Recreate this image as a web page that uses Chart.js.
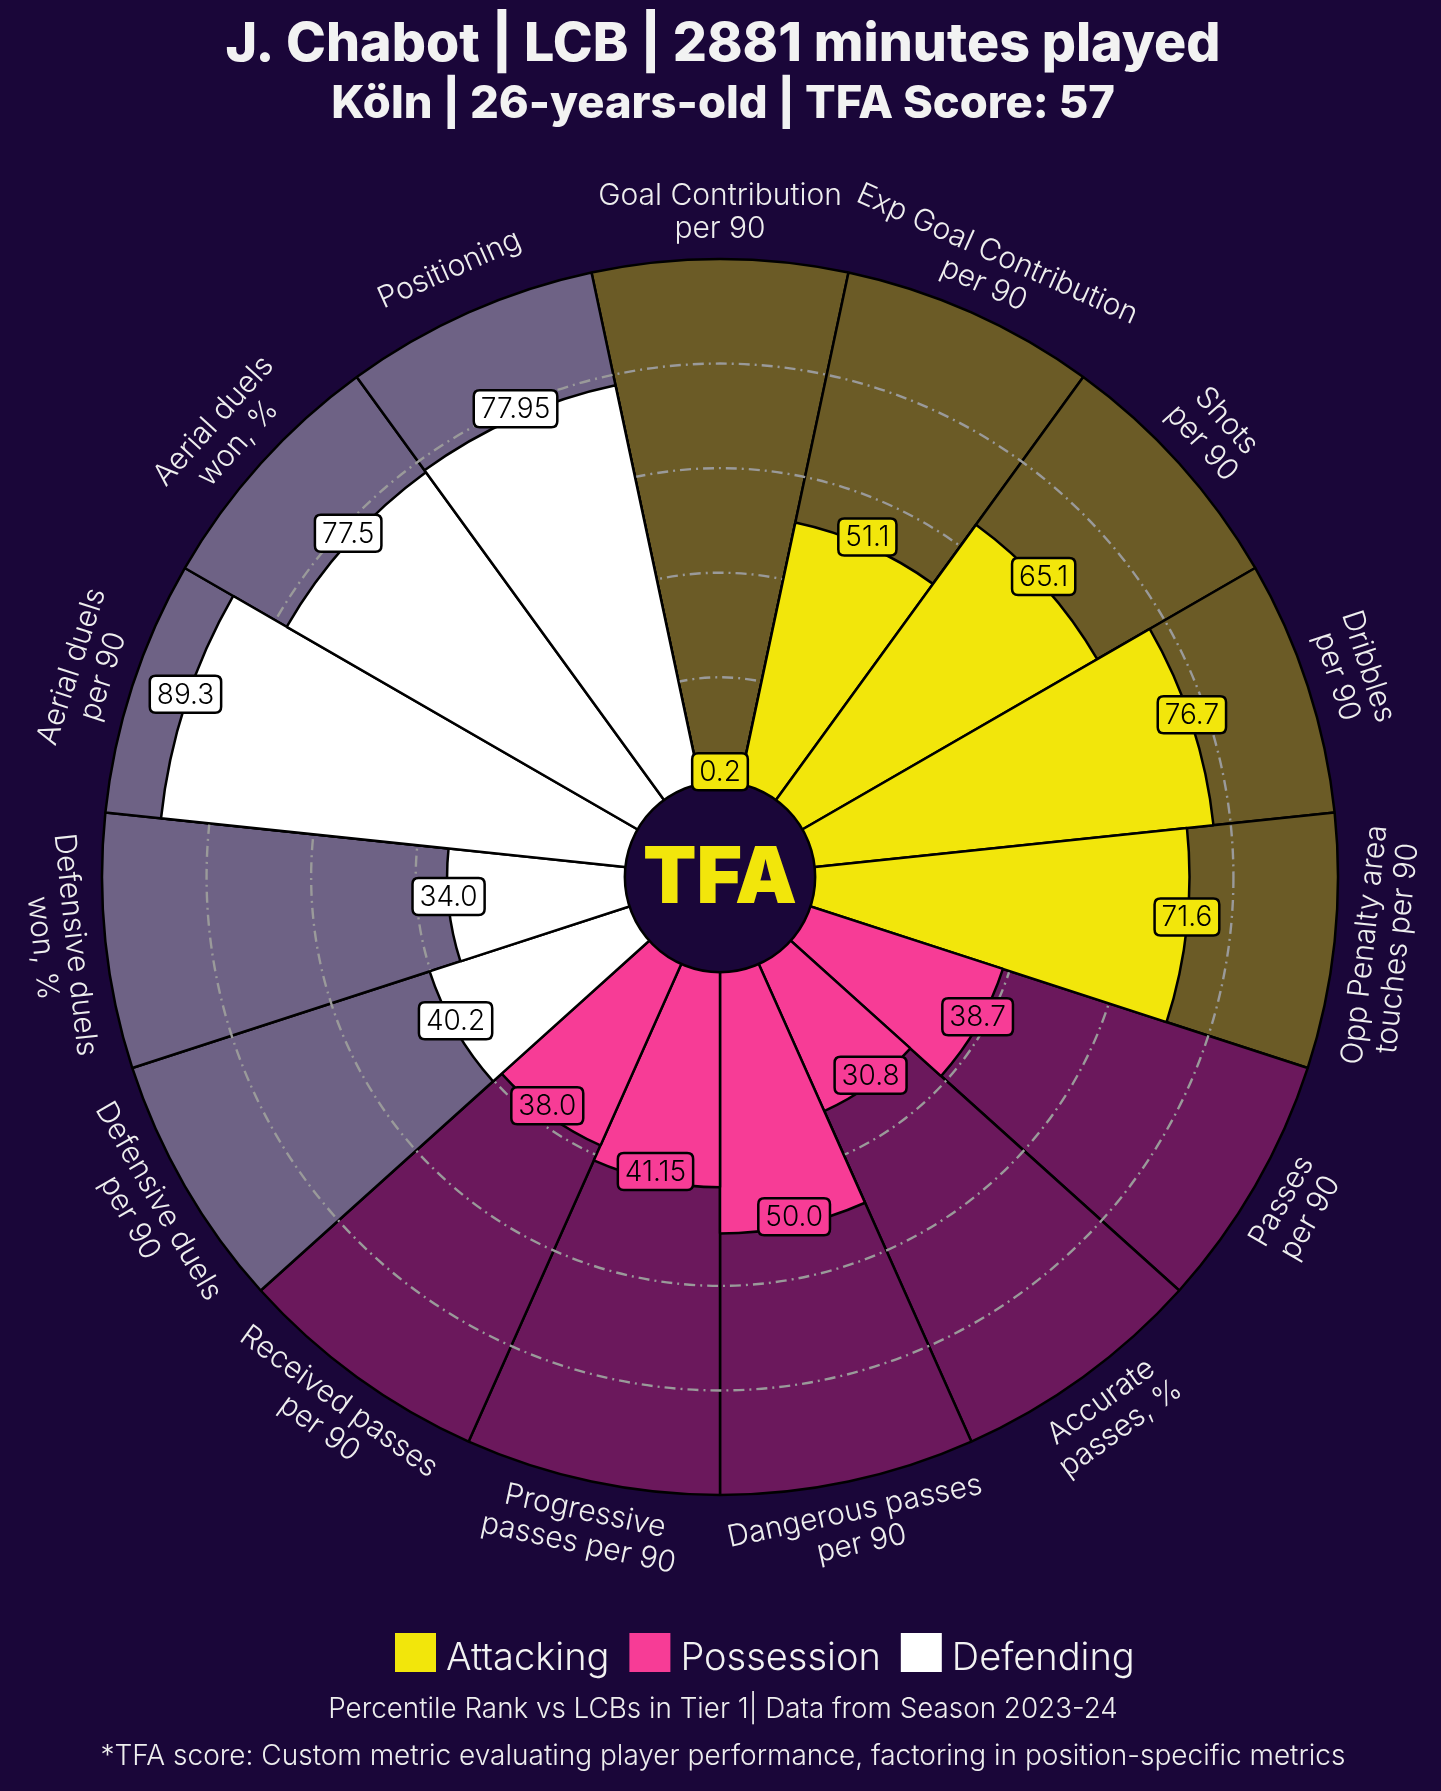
<!DOCTYPE html>
<html>
<head>
<meta charset="utf-8">
<script src="https://cdn.jsdelivr.net/npm/chart.js@4.4.1/dist/chart.umd.min.js"></script>
<style>
  html, body { margin: 0; padding: 0; background: #1a0639; }
  #wrap { position: relative; width: 1441px; height: 1791px; }
</style>
</head>
<body>
<div id="wrap"><canvas id="pizza"></canvas></div>
<script>
// --- data ---
var categories = [
    ['Goal Contribution', 'per 90'],
    ['Exp Goal Contribution', 'per 90'],
    ['Shots', 'per 90'],
    ['Dribbles', 'per 90'],
    ['Opp Penalty area', 'touches per 90'],
    ['Passes', 'per 90'],
    ['Accurate', 'passes, %'],
    ['Dangerous passes', 'per 90'],
    ['Progressive', 'passes per 90'],
    ['Received passes', 'per 90'],
    ['Defensive duels', 'per 90'],
    ['Defensive duels', 'won, %'],
    ['Aerial duels', 'per 90'],
    ['Aerial duels', 'won, %'],
    ['Positioning']
];
var percentiles = [0.2, 51.1, 65.1, 76.7, 71.6, 38.7, 30.8, 50.0, 41.15, 38.0, 40.2, 34.0, 89.3, 77.5, 77.95];
var groupOf = ['Attacking', 'Attacking', 'Attacking', 'Attacking', 'Attacking',
               'Possession', 'Possession', 'Possession', 'Possession', 'Possession',
               'Defending', 'Defending', 'Defending', 'Defending', 'Defending'];
var groupNames = ['Attacking', 'Possession', 'Defending'];
var gridValues = [20, 40, 60, 80];
var fullValues = categories.map(function() { return 100; });

var barColor = { Attacking: '#f2e60b', Possession: '#f73c96', Defending: '#ffffff' };
var bgColor = { Attacking: '#6b5b26', Possession: '#6b185c', Defending: '#6e6285' };

var titleLine1 = 'J. Chabot | LCB | 2881 minutes played';
var titleLine2 = 'Köln | 26-years-old | TFA Score: 57';
var footer1 = 'Percentile Rank vs LCBs in Tier 1| Data from Season 2023-24';
var footer2 = '*TFA score: Custom metric evaluating player performance, factoring in position-specific metrics';

var LIGHT = '300 ';
var FAMILY = 'Inter, "Noto Sans", sans-serif';

function fmt(v) {
    return (v % 1 === 0) ? v.toFixed(1) : String(v);
}

function roundRect(ctx, x, y, w, h, r) {
    ctx.beginPath();
    ctx.moveTo(x + r, y);
    ctx.lineTo(x + w - r, y);
    ctx.quadraticCurveTo(x + w, y, x + w, y + r);
    ctx.lineTo(x + w, y + h - r);
    ctx.quadraticCurveTo(x + w, y + h, x + w - r, y + h);
    ctx.lineTo(x + r, y + h);
    ctx.quadraticCurveTo(x, y + h, x, y + h - r);
    ctx.lineTo(x, y + r);
    ctx.quadraticCurveTo(x, y, x + r, y);
    ctx.closePath();
}

// pick a font size so the text spans roughly the width seen in the reference
function fitText(ctx, text, weight, targetWidth, guess) {
    ctx.font = weight + ' ' + guess + 'px ' + FAMILY;
    var w = ctx.measureText(text).width;
    var size = guess * targetWidth / w;
    ctx.font = weight + ' ' + size.toFixed(1) + 'px ' + FAMILY;
}

var pizzaExtras = {
    id: 'pizzaExtras',
    afterDatasetDraw: function(chart, args) {
        // dash-dot rings go over the background slices, under the bars
        if (args.index !== 1) return;
        var r = chart.scales.r, ctx = chart.ctx;
        ctx.save();
        ctx.strokeStyle = '#9a9a9a';
        ctx.lineWidth = 2.4;
        ctx.setLineDash([11, 5, 2, 5]);
        gridValues.forEach(function(v) {
            ctx.beginPath();
            ctx.arc(r.xCenter, r.yCenter, r.getDistanceFromCenterForValue(v), 0, Math.PI * 2);
            ctx.stroke();
        });
        ctx.restore();
    },
    afterDatasetsDraw: function(chart) {
        var r = chart.scales.r, ctx = chart.ctx;
        var cx = r.xCenter, cy = r.yCenter;
        var hub = r.getDistanceFromCenterForValue(0);
        var step = 360 / categories.length;
        ctx.save();

        // centre hub
        ctx.beginPath();
        ctx.arc(cx, cy, hub, 0, Math.PI * 2);
        ctx.fillStyle = '#1a0639';
        ctx.fill();
        ctx.lineWidth = 2.5;
        ctx.strokeStyle = '#000000';
        ctx.stroke();
        ctx.fillStyle = '#f2e60b';
        ctx.font = '900 78px ' + FAMILY;
        ctx.textAlign = 'center';
        ctx.textBaseline = 'middle';
        ctx.fillText('TFA', cx, cy + 3);

        // value boxes
        ctx.font = LIGHT + '28px ' + FAMILY;
        percentiles.forEach(function(v, i) {
            var a = (i * step) * Math.PI / 180;
            var d = r.getDistanceFromCenterForValue(v);
            var x = cx + d * Math.sin(a);
            var y = cy - d * Math.cos(a) - 9;
            var txt = fmt(v);
            var w = ctx.measureText(txt).width + 14;
            var h = 37;
            roundRect(ctx, x - w / 2, y - h / 2, w, h, 6);
            ctx.fillStyle = barColor[groupOf[i]];
            ctx.fill();
            ctx.lineWidth = 2.5;
            ctx.strokeStyle = '#000000';
            ctx.stroke();
            ctx.fillStyle = '#000000';
            ctx.fillText(txt, x, y + 1);
        });

        // category labels around the rim
        ctx.font = LIGHT + '30px ' + FAMILY;
        ctx.fillStyle = '#eeeeee';
        var R = 665, lh = 33;
        categories.forEach(function(lines, i) {
            var deg = i * step;
            var a = deg * Math.PI / 180;
            var rot = deg;
            if (deg > 90 && deg < 270) rot = deg - 180;
            else if (deg >= 270) rot = deg - 360;
            ctx.save();
            ctx.translate(cx + R * Math.sin(a), cy - R * Math.cos(a));
            ctx.rotate(rot * Math.PI / 180);
            lines.forEach(function(line, k) {
                ctx.fillText(line, 0, (k - (lines.length - 1) / 2) * lh);
            });
            ctx.restore();
        });
        ctx.restore();
    },
    afterDraw: function(chart) {
        var ctx = chart.ctx;
        ctx.save();
        ctx.fillStyle = '#f2f2f2';
        ctx.textAlign = 'center';
        ctx.textBaseline = 'alphabetic';
        fitText(ctx, titleLine1, '800', 996, 46);
        ctx.fillText(titleLine1, 723, 61);
        fitText(ctx, titleLine2, '800', 784, 38);
        ctx.fillText(titleLine2, 723, 118);

        // legend
        ctx.textAlign = 'left';
        ctx.font = LIGHT + '38px ' + FAMILY;
        var x = 395;
        groupNames.forEach(function(g) {
            ctx.fillStyle = barColor[g];
            ctx.fillRect(x, 1633, 41, 39);
            x += 51;
            ctx.fillStyle = '#f2f2f2';
            ctx.fillText(g, x, 1670);
            x += ctx.measureText(g).width + 20;
        });

        // footnotes
        ctx.textAlign = 'center';
        ctx.fillStyle = '#eeeeee';
        fitText(ctx, footer1, '300', 789, 26);
        ctx.fillText(footer1, 723, 1718);
        fitText(ctx, footer2, '300', 1247, 26);
        ctx.fillText(footer2, 723, 1765);
        ctx.restore();
    }
};

new Chart(document.getElementById('pizza'), {
    type: 'polarArea',
    data: {
        labels: categories,
        datasets: [{
            label: 'Percentile',
            data: percentiles,
            backgroundColor: groupOf.map(function(g) { return barColor[g]; }),
            borderColor: '#000000',
            borderWidth: 2.5
        }, {
            label: 'Background',
            data: fullValues,
            backgroundColor: groupOf.map(function(g) { return bgColor[g]; }),
            borderColor: '#000000',
            borderWidth: 2.5
        }]
    },
    options: {
        responsive: true,
        maintainAspectRatio: false,
        animation: false,
        events: [],
        layout: { padding: { left: 102, right: 103, top: 259, bottom: 296 } },
        plugins: {
            legend: { display: false },
            tooltip: { enabled: false }
        },
        scales: {
            r: {
                min: -18.2,
                max: 100,
                startAngle: -12,
                ticks: { display: false },
                grid: { display: false },
                angleLines: { display: false },
                pointLabels: { display: false }
            }
        }
    },
    plugins: [pizzaExtras]
});
</script>
</body>
</html>
